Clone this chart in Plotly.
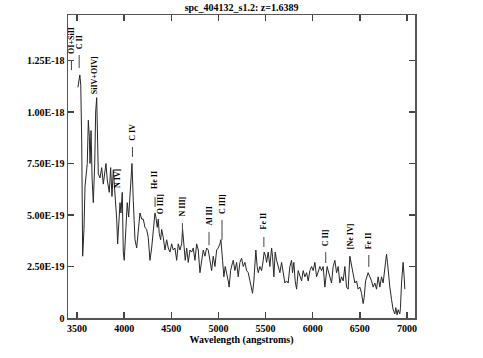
import numpy as np
import plotly.graph_objects as go

# ---- data (flux in units of 1e-19 erg/s/cm2/A) ----
wavelength = [3510, 3520, 3530, 3540, 3550, 3560, 3574, 3585, 3595, 3609, 3620, 3631, 3638, 3649,
              3660, 3673, 3688, 3698, 3709, 3726, 3744, 3762, 3779, 3797, 3807, 3821, 3842, 3857,
              3871, 3885, 3903, 3921, 3931, 3956, 3966, 3980, 3991, 4001, 4019, 4033, 4048, 4062,
              4072, 4083, 4097, 4115, 4133, 4150, 4168, 4186, 4203, 4221, 4239, 4256, 4274, 4292,
              4309, 4327, 4337, 4351, 4362, 4372, 4387, 4398, 4415, 4433, 4451, 4468, 4486, 4504,
              4521, 4539, 4557, 4574, 4592, 4610, 4620, 4634, 4648, 4663, 4680, 4698, 4716, 4733,
              4751, 4769, 4786, 4804, 4822, 4839, 4857, 4875, 4892, 4910, 4928, 4945, 4963, 4981,
              4998, 5016, 5026, 5044, 5058, 5072, 5087, 5104, 5114, 5129, 5150, 5157, 5175, 5193,
              5210, 5228, 5246, 5263, 5281, 5299, 5316, 5334, 5352, 5362, 5376, 5387, 5397, 5411,
              5422, 5440, 5458, 5475, 5485, 5500, 5511, 5528, 5546, 5564, 5574, 5588, 5602, 5617,
              5634, 5652, 5670, 5687, 5705, 5723, 5740, 5758, 5776, 5786, 5800, 5814, 5829, 5846,
              5864, 5882, 5899, 5917, 5935, 5952, 5970, 5988, 6005, 6023, 6041, 6058, 6076, 6094,
              6111, 6129, 6140, 6153, 6164, 6182, 6200, 6217, 6235, 6253, 6270, 6288, 6306, 6323,
              6341, 6359, 6376, 6394, 6412, 6429, 6447, 6465, 6482, 6500, 6518, 6535, 6546, 6561,
              6571, 6588, 6606, 6624, 6641, 6659, 6677, 6694, 6712, 6730, 6747, 6765, 6783, 6793,
              6804, 6818, 6836, 6853, 6871, 6881, 6895, 6906, 6924, 6931, 6942, 6952, 6959, 6970,
              6977]
flux_e19 = [11.2, 11.6, 11.8, 11.3, 8.5, 3.0, 4.3, 6.4, 6.8, 7.5, 9.6, 8.8, 7.5, 9.1,
            6.8, 5.6, 7.5, 10.0, 10.7, 7.0, 6.8, 7.3, 6.5, 7.2, 7.5, 6.7, 6.1, 7.3,
            5.9, 7.2, 6.1, 4.8, 3.6, 5.6, 5.1, 6.1, 3.2, 2.8, 4.4, 5.6, 4.9, 6.1,
            6.7, 7.5, 5.7, 3.8, 3.4, 4.4, 5.1, 4.8, 4.8, 4.4, 4.3, 3.9, 2.8, 3.4,
            4.1, 5.1, 4.9, 4.4, 4.8, 4.1, 3.8, 4.3, 3.9, 3.3, 3.8, 3.4, 3.2, 3.6,
            3.3, 3.4, 2.8, 3.6, 3.3, 3.6, 4.3, 3.3, 2.8, 3.4, 2.7, 3.3, 3.2, 3.4,
            2.8, 3.6, 3.3, 2.2, 2.8, 3.3, 3.0, 3.4, 3.3, 2.8, 2.3, 3.0, 2.5, 3.3,
            3.4, 3.6, 3.8, 2.8, 2.0, 2.5, 2.2, 1.8, 1.5, 2.3, 2.7, 2.8, 2.3, 2.7,
            2.0, 2.7, 2.9, 2.5, 2.7, 2.3, 2.2, 1.8, 1.5, 1.2, 1.8, 2.7, 3.3, 2.5,
            2.2, 2.5, 2.3, 2.8, 3.2, 3.0, 2.7, 3.2, 2.5, 3.4, 3.0, 2.0, 3.2, 2.8,
            2.5, 2.2, 2.7, 2.3, 1.7, 1.8, 1.7, 2.5, 2.8, 2.2, 2.7, 1.8, 1.4, 2.3,
            2.0, 1.8, 2.3, 2.0, 2.2, 1.8, 2.3, 2.5, 2.3, 2.7, 2.0, 2.3, 2.5, 2.3,
            2.5, 1.5, 2.0, 2.5, 2.3, 2.0, 1.7, 2.5, 2.8, 2.2, 2.5, 1.7, 2.0, 1.8,
            2.5, 1.5, 1.4, 3.0, 2.5, 2.0, 1.7, 1.8, 1.4, 1.5, 1.2, 0.7, 1.0, 1.8,
            2.0, 2.2, 2.0, 1.8, 1.5, 1.7, 1.4, 2.0, 1.5, 2.0, 1.7, 2.5, 3.1, 2.7,
            2.0, 1.5, 0.9, 0.4, 0.2, 0.5, 0.15, 0.4, 0.2, 0.5, 1.7, 2.5, 2.7, 2.0,
            1.4]

# emission-line labels
line_names = ["OI+SiII", "C II", "SiIV+OIV]", "N IV]", "C IV", "He II", "O III]", "N III]",
              "Al III", "C III]", "Fe II", "C II]", "[Ne IV]", "Fe II"]
line_wave = [3441, 3523, 3694, 3924, 4088, 4328, 4389, 4618, 4900, 5038, 5482, 6138, 6397, 6595]
label_level = [12.72, 12.96, 10.78, 6.21, 8.50, 6.17, 4.95, 4.85, 4.37, 4.95, 4.22, 3.40, 3.25, 3.25]
mark_top = [12.52, 12.77, None, None, 8.30, 5.87, None, 4.61, 4.17, 4.76, 3.93, 3.20, 2.96, 3.06]
mark_bottom = [12.04, 12.14, None, None, 7.82, 5.39, None, 3.93, 3.54, 3.79, 3.45, 2.67, 2.72, 2.48]

xtick_vals = [3500, 4000, 4500, 5000, 5500, 6000, 6500, 7000]
ytick_vals_e19 = [0, 2.5, 5.0, 7.5, 10.0, 12.5]
ytick_text = ["0", "2.50E-19", "5.00E-19", "7.50E-19", "1.00E-18", "1.25E-18"]

SCALE = 1e-19
flux = np.array(flux_e19) * SCALE

FONT = "Liberation Serif"
fig = go.Figure()
fig.add_trace(go.Scatter(x=wavelength, y=flux, mode="lines",
                         line=dict(color="#262626", width=1), showlegend=False,
                         hoverinfo="skip"))

for name, w, lv, top, bot in zip(line_names, line_wave, label_level, mark_top, mark_bottom):
    fig.add_annotation(x=w, y=lv * SCALE, xref="x", yref="y", text=name, textangle=-90,
                       showarrow=False, xanchor="center", yanchor="bottom",
                       font=dict(family=FONT, size=8, color="black", weight="bold"))
    if top is not None:
        fig.add_shape(type="line", x0=w, x1=w, y0=bot * SCALE, y1=top * SCALE,
                      xref="x", yref="y", line=dict(color="#444", width=1))

axis_common = dict(showline=True, linecolor="#555", linewidth=1.5, mirror="ticks",
                   ticks="inside", ticklen=6, tickcolor="#444", tickwidth=1.5,
                   showgrid=False, zeroline=False, automargin=False,
                   tickfont=dict(family=FONT, size=10, color="black", weight="bold"))

fig.update_layout(
    width=483, height=358,
    margin=dict(l=68, r=68, t=15, b=40),
    paper_bgcolor="white", plot_bgcolor="white",
    hovermode=False,
    title=dict(text="spc_404132_s1.2: z=1.6389", x=0.5, xanchor="center",
               y=1 - 7 / 358, yanchor="middle",
               font=dict(family=FONT, size=10, color="black", weight="bold")),
    xaxis=dict(range=[3404.5, 7085], tickvals=xtick_vals,
               title=dict(text="Wavelength (angstroms)", standoff=1,
                          font=dict(family=FONT, size=10, color="black", weight="bold")),
               **axis_common),
    yaxis=dict(range=[0, 14.71 * SCALE], tickvals=[v * SCALE for v in ytick_vals_e19],
               ticktext=ytick_text, **axis_common),
)

fig.write_html("out.html", config={"displayModeBar": False, "staticPlot": True},
               post_script="document.body.style.margin='0';")
